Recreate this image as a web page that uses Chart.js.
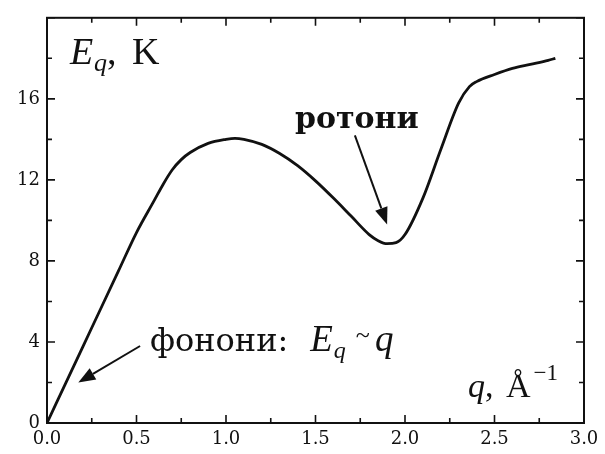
<!DOCTYPE html>
<html>
<head>
<meta charset="utf-8">
<script src="https://cdn.jsdelivr.net/npm/chart.js@4.4.0/dist/chart.umd.min.js"></script>
<style>
    html, body { margin: 0; padding: 0; background: #fff; }
    #wrap { width: 605px; height: 454px; }
</style>
</head>
<body>
<div id="wrap"><canvas id="dispersion"></canvas></div>
<script>
// спектр збуджень He II: E(q), K
let qValues = [0, 0.1, 0.2, 0.3, 0.4, 0.5, 0.6, 0.65, 0.7, 0.75, 0.8, 0.9, 1.0, 1.05, 1.1, 1.2, 1.3, 1.4,
    1.5, 1.6, 1.7, 1.8, 1.85, 1.9, 1.95, 2.0, 2.1, 2.2, 2.3, 2.36, 2.4, 2.5, 2.6, 2.7, 2.8, 2.84]
let energyK = [0, 1.88, 3.76, 5.64, 7.52, 9.4, 11.0, 11.8, 12.5, 13.0, 13.35, 13.8, 14.0, 14.05, 14.0, 13.75, 13.3, 12.7,
    11.95, 11.1, 10.2, 9.3, 9.0, 8.85, 8.9, 9.3, 11.1, 13.5, 15.8, 16.6, 16.85, 17.2, 17.5, 17.7, 17.9, 18.0]

let xMin = 0, xMax = 3, xStep = 0.25, xLabelStep = 0.5
let yMin = 0, yMax = 20, yStep = 2, yLabelStep = 4

let ink = '#111'
let serif = '"DejaVu Serif", serif'
let math = '"Liberation Serif", serif'

let points = qValues.map((q, i) => ({x: q, y: energyK[i]}))

function isMultiple(v, step) {
    return Math.abs(v / step - Math.round(v / step)) < 1e-6
}

// рамка з рисками всередину на всіх чотирьох сторонах
const framePlugin = {
    id: 'frame',
    afterDatasetsDraw(chart) {
        let {ctx, chartArea: a, scales: {x, y}} = chart
        ctx.save()
        ctx.strokeStyle = ink
        ctx.lineWidth = 2
        ctx.strokeRect(a.left, a.top, a.right - a.left, a.bottom - a.top)
        ctx.lineWidth = 1.6
        ctx.beginPath()
        for (let t of x.ticks) {
            let px = x.getPixelForValue(t.value)
            let len = isMultiple(t.value, xLabelStep) ? 8 : 5
            ctx.moveTo(px, a.bottom); ctx.lineTo(px, a.bottom - len)
            ctx.moveTo(px, a.top); ctx.lineTo(px, a.top + len)
        }
        for (let t of y.ticks) {
            let py = y.getPixelForValue(t.value)
            let len = isMultiple(t.value, yLabelStep) ? 8 : 5
            ctx.moveTo(a.left, py); ctx.lineTo(a.left + len, py)
            ctx.moveTo(a.right, py); ctx.lineTo(a.right - len, py)
        }
        ctx.stroke()
        ctx.restore()
    }
}

function drawRuns(ctx, x, y, runs) {
    for (let r of runs) {
        ctx.font = r.font
        ctx.fillText(r.text, x, y + (r.dy || 0))
        x += ctx.measureText(r.text).width + (r.gap || 0)
    }
}

function drawArrow(ctx, x1, y1, x2, y2) {
    let ang = Math.atan2(y2 - y1, x2 - x1)
    let head = 17, half = 6.5
    let bx = x2 - head * Math.cos(ang), by = y2 - head * Math.sin(ang)
    ctx.beginPath()
    ctx.moveTo(x1, y1)
    ctx.lineTo(bx, by)
    ctx.stroke()
    ctx.beginPath()
    ctx.moveTo(x2, y2)
    ctx.lineTo(bx + half * Math.sin(ang), by - half * Math.cos(ang))
    ctx.lineTo(bx - half * Math.sin(ang), by + half * Math.cos(ang))
    ctx.closePath()
    ctx.fill()
}

// підписи осей, "ротони", "фонони" і стрілки
const notesPlugin = {
    id: 'notes',
    afterDraw(chart) {
        let {ctx, scales: {x, y}} = chart
        let px = v => x.getPixelForValue(v)
        let py = v => y.getPixelForValue(v)
        ctx.save()
        ctx.fillStyle = ink
        ctx.strokeStyle = ink
        ctx.lineWidth = 2
        ctx.textBaseline = 'alphabetic'
        ctx.textAlign = 'left'

        drawRuns(ctx, px(0.128), py(17.7), [
            {text: 'E', font: 'italic 38px ' + math, gap: 1},
            {text: 'q', font: 'italic 26px ' + math, dy: 7},
            {text: ', ', font: '38px ' + math, gap: 6},
            {text: 'K', font: '38px ' + math}
        ])

        ctx.font = 'bold 30px ' + serif
        ctx.fillText('ротони', px(1.385), py(14.54))

        drawRuns(ctx, px(0.575), py(3.56), [
            {text: 'фонони:', font: '32px ' + serif, gap: 22},
            {text: 'E', font: 'italic 37px ' + math, gap: 1},
            {text: 'q', font: 'italic 24px ' + math, dy: 7, gap: 10},
            {text: '~', font: '26px ' + math, dy: -8, gap: 5},
            {text: 'q', font: 'italic 37px ' + math}
        ])

        drawRuns(ctx, px(2.352), py(1.27), [
            {text: 'q', font: 'italic 34px ' + math},
            {text: ', ', font: '34px ' + math, gap: 4},
            {text: 'Å', font: '34px ' + math, gap: 3},
            {text: '−1', font: '23px ' + math, dy: -17}
        ])

        drawArrow(ctx, px(1.72), py(14.2), px(1.9), py(9.8))
        drawArrow(ctx, px(0.52), py(3.8), px(0.175), py(2.0))
        ctx.restore()
    }
}

let config = {
    type: 'line',
    data: {
        datasets: [{
            data: points,
            borderColor: ink,
            borderWidth: 2.8,
            pointRadius: 0,
            fill: false,
            cubicInterpolationMode: 'monotone'
        }]
    },
    options: {
        animation: false,
        responsive: true,
        maintainAspectRatio: false,
        layout: {padding: {top: 13, right: 21, left: 0, bottom: 0}},
        plugins: {
            legend: {display: false},
            tooltip: {enabled: false}
        },
        scales: {
            x: {
                type: 'linear',
                min: xMin,
                max: xMax,
                grid: {display: false, drawTicks: false},
                border: {display: false},
                ticks: {
                    stepSize: xStep,
                    autoSkip: false,
                    maxRotation: 0,
                    padding: 6,
                    color: ink,
                    font: {family: serif, size: 18},
                    callback: v => isMultiple(v, xLabelStep) ? v.toFixed(1) : ''
                },
                afterFit: s => { s.height = 31 }
            },
            y: {
                min: yMin,
                max: yMax,
                grid: {display: false, drawTicks: false},
                border: {display: false},
                ticks: {
                    stepSize: yStep,
                    autoSkip: false,
                    padding: 7,
                    color: ink,
                    font: {family: serif, size: 18},
                    callback: v => (isMultiple(v, yLabelStep) && v < yMax) ? v : ''
                },
                afterFit: s => { s.width = 47 }
            }
        }
    },
    plugins: [framePlugin, notesPlugin]
}

new Chart(document.getElementById('dispersion'), config)
</script>
</body>
</html>
